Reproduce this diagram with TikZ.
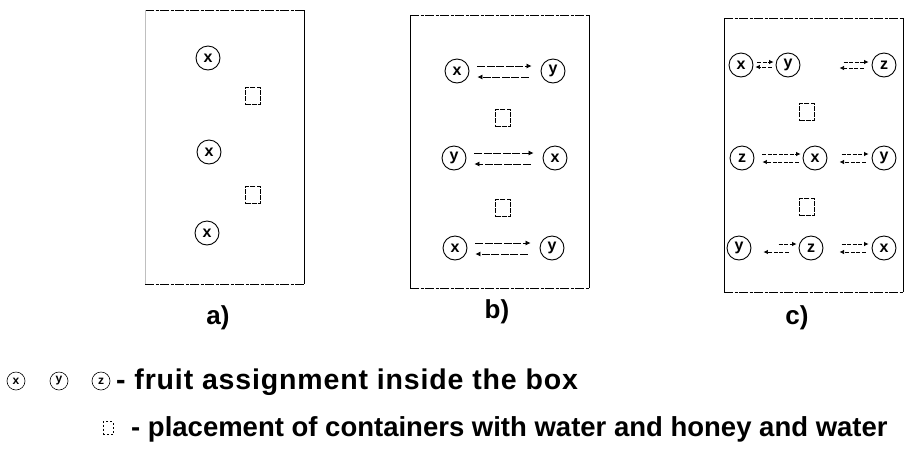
\documentclass[tikz,border=0pt]{standalone}
\usepackage{fontspec}
\setmainfont{Liberation Sans}
\usetikzlibrary{arrows.meta}
\begin{document}
\begin{tikzpicture}[x=1pt,y=-1pt,
 fruit/.style={circle,draw,line width=0.9pt,minimum size=24pt,inner sep=0pt,font=\bfseries\fontsize{16}{16}\selectfont},
 lfruit/.style={circle,draw,line width=0.6pt,minimum size=18pt,inner sep=0pt,font=\bfseries\fontsize{12}{12}\selectfont},
 cont/.style={draw,line width=0.8pt,dash pattern=on 5pt off 1.2pt,minimum width=15pt,minimum height=17pt,inner sep=0pt},
 side/.style={line width=0.9pt},
 edge/.style={line width=0.8pt,dash pattern=on 9pt off 1.5pt on 3pt off 1.5pt},
 arr/.style={-{Latex[length=5pt,width=5pt]},line width=0.7pt,dash pattern=on 8pt off 1.5pt},
 sarr/.style={-{Latex[length=4.5pt,width=4.5pt]},line width=0.7pt,dash pattern=on 4pt off 1.5pt},
 lab/.style={font=\bfseries\fontsize{26}{26}\selectfont},
 legend/.style={font=\bfseries\fontsize{27.5}{27.5}\selectfont,anchor=west,inner sep=0pt}]
\useasboundingbox (0,0) rectangle (911,451);

% ---------- panel a ----------
\coordinate (aTL) at (145,10); \coordinate (aTR) at (304,10);
\coordinate (aBL) at (145,284); \coordinate (aBR) at (304,284);
\draw[edge] (aTL) -- (aTR);
\draw[edge] (aBL) -- (aBR);
\draw[side] (aTR) -- (aBR);
\draw[line width=0.3pt,black!25] (aTL) -- (aBL);
\node[fruit] (a1) at (208,58) {x};
\node[cont]  (as1) at (253,96) {};
\node[fruit] (a2) at (209,152) {x};
\node[cont]  (as2) at (253,195) {};
\node[fruit] (a3) at (207,233) {x};
\node[lab] (la) at (218,318) {a)};

% ---------- panel b ----------
\coordinate (bTL) at (410,15); \coordinate (bTR) at (589,15);
\coordinate (bBL) at (410,288); \coordinate (bBR) at (589,288);
\draw[edge] (bTL) -- (bTR);
\draw[edge] (bBL) -- (bBR);
\draw[side] (bTL) -- (bBL);
\draw[side] (bTR) -- (bBR);
\node[fruit] (b1x) at (457,71) {x};
\node[fruit] (b1y) at (553,71) {y};
\node[cont]  (bs1) at (503,118) {};
\node[fruit] (b2y) at (454,158) {y};
\node[fruit] (b2x) at (555,158) {x};
\node[cont]  (bs2) at (503,208) {};
\node[fruit] (b3x) at (455,248) {x};
\node[fruit] (b3y) at (552,248) {y};
\foreach \l/\r in {b1x/b1y,b2y/b2x,b3x/b3y}{
  \draw[arr] ([shift={(8pt,5pt)}]\l.east) -- ([shift={(-9pt,5pt)}]\r.west);
  \draw[arr] ([shift={(-12pt,-6pt)}]\r.west) -- ([shift={(8pt,-6pt)}]\l.east);
}
\node[lab] (lb) at (497,312) {b)};

% ---------- panel c ----------
\coordinate (cTL) at (724,18); \coordinate (cTR) at (903,18);
\coordinate (cBL) at (724,292); \coordinate (cBR) at (903,292);
\draw[edge] (cTL) -- (cTR);
\draw[edge] (cBL) -- (cBR);
\draw[side] (cTL) -- (cBL);
\draw[side] (cTR) -- (cBR);
\node[fruit] (c1x) at (741,65) {x};
\node[fruit] (c1y) at (788,65) {y};
\node[fruit] (c1z) at (884,65) {z};
\node[cont]  (cs1) at (807,112) {};
\node[fruit] (c2z) at (742,158) {z};
\node[fruit] (c2x) at (815,158) {x};
\node[fruit] (c2y) at (884,158) {y};
\node[cont]  (cs2) at (807,207) {};
\node[fruit] (c3y) at (739,248) {y};
\node[fruit] (c3z) at (811,248) {z};
\node[fruit] (c3x) at (884,248) {x};
% row 1
\draw[sarr] ([shift={(4pt,3pt)}]c1x.east) -- ([shift={(-2pt,3pt)}]c1y.west);
\draw[sarr] ([shift={(-4pt,-2pt)}]c1y.west) -- ([shift={(2pt,-2pt)}]c1x.east);
\draw[sarr] ([shift={(-28pt,3pt)}]c1z.west) -- ([shift={(-3pt,3pt)}]c1z.west);
\draw[sarr] ([shift={(-8pt,-3pt)}]c1z.west) -- ([shift={(-32pt,-3pt)}]c1z.west);
% row 2
\draw[sarr] ([shift={(8pt,4pt)}]c2z.east) -- ([shift={(-2pt,4pt)}]c2x.west);
\draw[sarr] ([shift={(-4pt,-4pt)}]c2x.west) -- ([shift={(8pt,-4pt)}]c2z.east);
\draw[sarr] ([shift={(-30pt,4pt)}]c2y.west) -- ([shift={(-3pt,4pt)}]c2y.west);
\draw[sarr] ([shift={(-6pt,-4pt)}]c2y.west) -- ([shift={(-32pt,-4pt)}]c2y.west);
% row 3
\draw[sarr] ([shift={(-20pt,4pt)}]c3z.west) -- ([shift={(-2pt,4pt)}]c3z.west);
\draw[sarr] ([shift={(-10pt,-4pt)}]c3z.west) -- ([shift={(12pt,-4pt)}]c3y.east);
\draw[sarr] ([shift={(-30pt,4pt)}]c3x.west) -- ([shift={(-3pt,4pt)}]c3x.west);
\draw[sarr] ([shift={(-6pt,-4pt)}]c3x.west) -- ([shift={(-32pt,-4pt)}]c3x.west);
\node[lab] (lc) at (797,318) {c)};

% ---------- legend ----------
\node[lfruit] (lx) at (16,381) {x};
\node[lfruit] (ly) at (59,381) {y};
\node[lfruit] (lz) at (101,381) {z};
\node[legend] (t1) at (116,382) {\fontsize{28.5}{28.5}\selectfont\addfontfeature{LetterSpace=3}- fruit assignment inside the box};
\node[draw,line width=0.5pt,dash pattern=on 2pt off 2pt,minimum width=10pt,minimum height=13pt,inner sep=0pt] (lsq) at (108,428) {};
\node[legend] (t2) at (131,429) {- placement of containers with water and honey and water};
\end{tikzpicture}
\end{document}
